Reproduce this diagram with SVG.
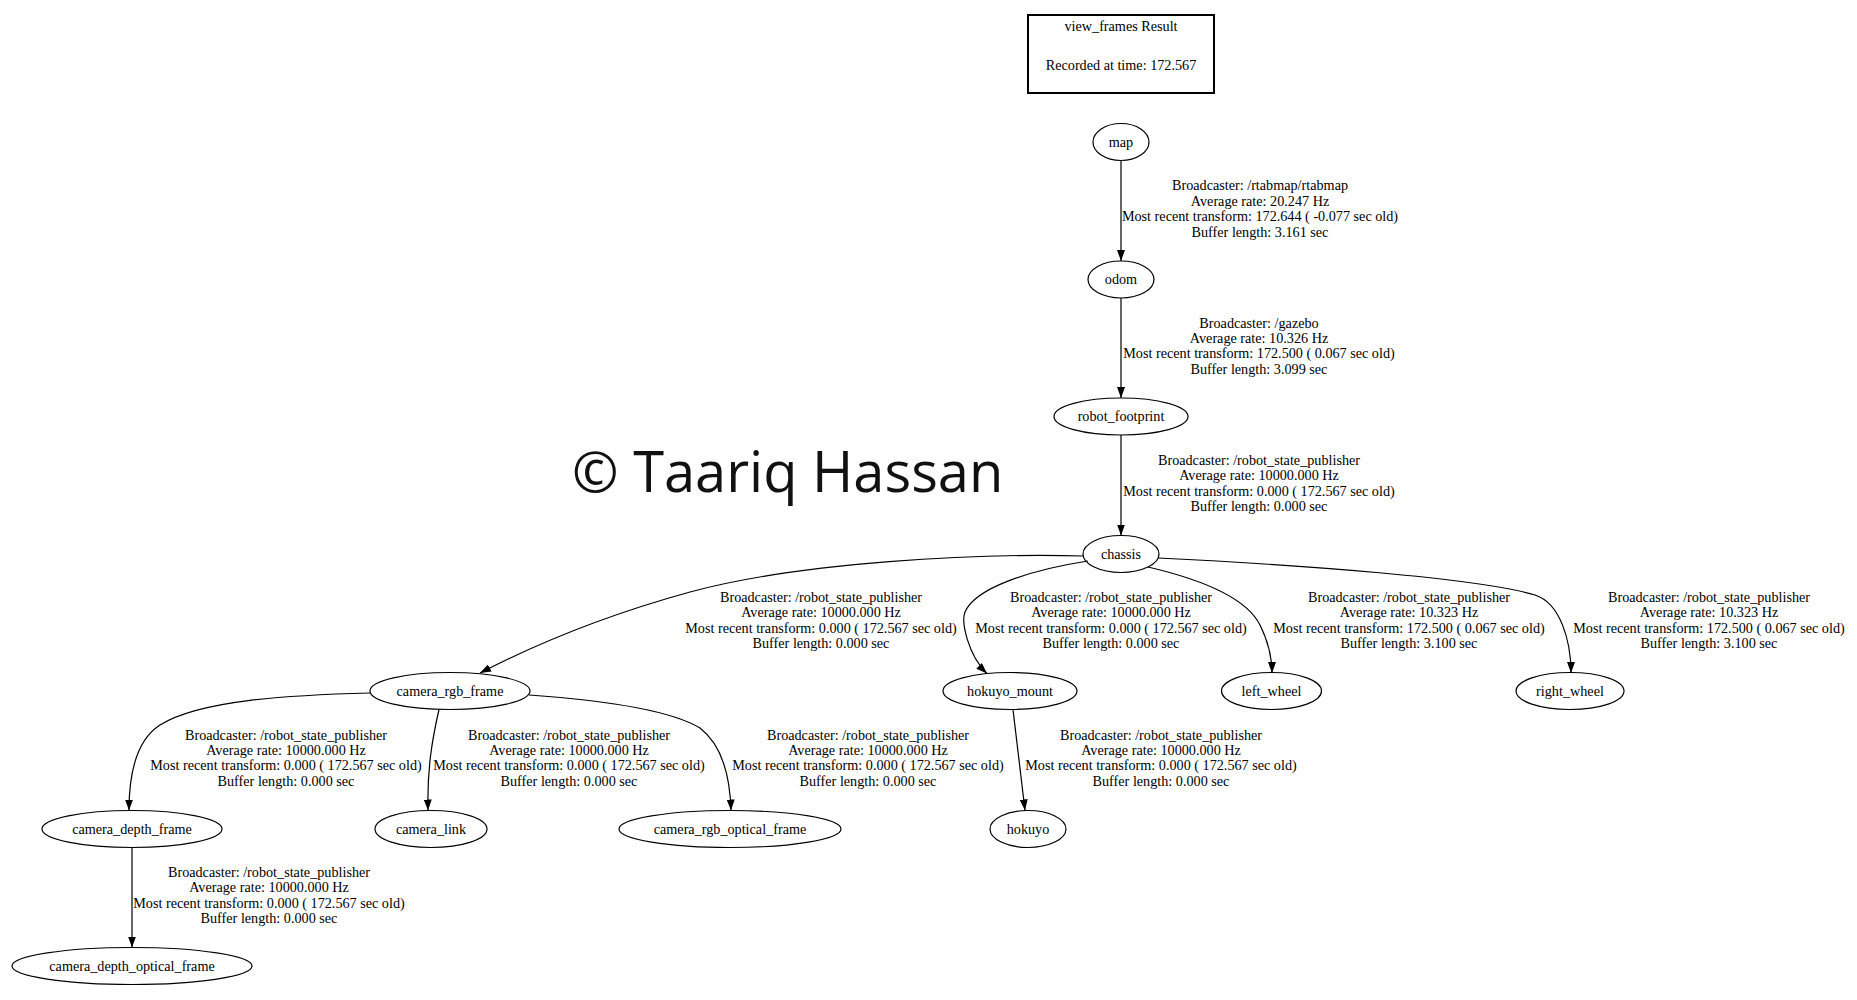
<svg xmlns="http://www.w3.org/2000/svg" width="1857" height="1000" viewBox="0 0 1857 1000">
<style>
.bg{fill:#fff}
.node ellipse{fill:none;stroke:#000;stroke-width:1.2}
.t{font-family:"Liberation Serif","Times New Roman",serif;font-size:14.2px;text-anchor:middle;fill:#000}
.edge path{fill:none;stroke:#000;stroke-width:1.2;marker-end:url(#arr)}
.wm{font-family:"Open Sans","Noto Sans",sans-serif;font-size:56px;fill:#111}
</style>
<defs>
<marker id="arr" markerUnits="userSpaceOnUse" viewBox="0 0 11 8" refX="11" refY="4" markerWidth="11" markerHeight="8" orient="auto">
<path d="M0,0 L11,4 L0,8 z" fill="#000"/>
</marker>
</defs>
<rect class="bg" x="0" y="0" width="1857" height="1000"/>

<g id="title">
<rect x="1028" y="15" width="186" height="78" fill="none" stroke="#000" stroke-width="2"/>
<text class="t" x="1121" y="31">view_frames Result</text>
<text class="t" x="1121" y="70">Recorded at time: 172.567</text>
</g>

<g id="connectors">
<g id="e-map-odom" class="edge">
<path d="M1121,160.5 L1121,261"/>
<text class="t" x="1260" y="190.3">Broadcaster: /rtabmap/rtabmap<tspan x="1260" dy="15.4">Average rate: 20.247 Hz</tspan><tspan x="1260" dy="15.4">Most recent transform: 172.644 ( -0.077 sec old)</tspan><tspan x="1260" dy="15.4">Buffer length: 3.161 sec</tspan></text>
</g>
<g id="e-odom-fp" class="edge">
<path d="M1121,298 L1121,398"/>
<text class="t" x="1259" y="327.5">Broadcaster: /gazebo<tspan x="1259" dy="15.4">Average rate: 10.326 Hz</tspan><tspan x="1259" dy="15.4">Most recent transform: 172.500 ( 0.067 sec old)</tspan><tspan x="1259" dy="15.4">Buffer length: 3.099 sec</tspan></text>
</g>
<g id="e-fp-chassis" class="edge">
<path d="M1121,435 L1121,535.5"/>
<text class="t" x="1259" y="464.8">Broadcaster: /robot_state_publisher<tspan x="1259" dy="15.4">Average rate: 10000.000 Hz</tspan><tspan x="1259" dy="15.4">Most recent transform: 0.000 ( 172.567 sec old)</tspan><tspan x="1259" dy="15.4">Buffer length: 0.000 sec</tspan></text>
</g>
<g id="e-chassis-rgb" class="edge">
<path d="M1084,556 C980,553 800,562 690,592 C610,614 540,642 480,673"/>
<text class="t" x="821" y="602">Broadcaster: /robot_state_publisher<tspan x="821" dy="15.4">Average rate: 10000.000 Hz</tspan><tspan x="821" dy="15.4">Most recent transform: 0.000 ( 172.567 sec old)</tspan><tspan x="821" dy="15.4">Buffer length: 0.000 sec</tspan></text>
</g>
<g id="e-chassis-hokuyo_mount" class="edge">
<path d="M1088,561 C1030,570 975,588 965,612 C961,622 968,655 987,673.5"/>
<text class="t" x="1111" y="602">Broadcaster: /robot_state_publisher<tspan x="1111" dy="15.4">Average rate: 10000.000 Hz</tspan><tspan x="1111" dy="15.4">Most recent transform: 0.000 ( 172.567 sec old)</tspan><tspan x="1111" dy="15.4">Buffer length: 0.000 sec</tspan></text>
</g>
<g id="e-chassis-left_wheel" class="edge">
<path d="M1148,567 C1195,578 1245,595 1260,625 C1270,645 1272,660 1272,673"/>
<text class="t" x="1409" y="602">Broadcaster: /robot_state_publisher<tspan x="1409" dy="15.4">Average rate: 10.323 Hz</tspan><tspan x="1409" dy="15.4">Most recent transform: 172.500 ( 0.067 sec old)</tspan><tspan x="1409" dy="15.4">Buffer length: 3.100 sec</tspan></text>
</g>
<g id="e-chassis-right_wheel" class="edge">
<path d="M1158,558 C1300,565 1480,578 1535,595 C1560,603 1571,640 1571,673"/>
<text class="t" x="1709" y="602">Broadcaster: /robot_state_publisher<tspan x="1709" dy="15.4">Average rate: 10.323 Hz</tspan><tspan x="1709" dy="15.4">Most recent transform: 172.500 ( 0.067 sec old)</tspan><tspan x="1709" dy="15.4">Buffer length: 3.100 sec</tspan></text>
</g>
<g id="e-rgb-depth" class="edge">
<path d="M370,693 C290,695 200,700 160,725 C135,741 129,775 129,810.5"/>
<text class="t" x="286" y="739.5">Broadcaster: /robot_state_publisher<tspan x="286" dy="15.4">Average rate: 10000.000 Hz</tspan><tspan x="286" dy="15.4">Most recent transform: 0.000 ( 172.567 sec old)</tspan><tspan x="286" dy="15.4">Buffer length: 0.000 sec</tspan></text>
</g>
<g id="e-rgb-link" class="edge">
<path d="M439,709.5 C432,740 427,770 428,810.5"/>
<text class="t" x="569" y="739.5">Broadcaster: /robot_state_publisher<tspan x="569" dy="15.4">Average rate: 10000.000 Hz</tspan><tspan x="569" dy="15.4">Most recent transform: 0.000 ( 172.567 sec old)</tspan><tspan x="569" dy="15.4">Buffer length: 0.000 sec</tspan></text>
</g>
<g id="e-rgb-optical" class="edge">
<path d="M529,695 C600,700 670,710 700,728 C722,745 730,775 731,810.5"/>
<text class="t" x="868" y="739.5">Broadcaster: /robot_state_publisher<tspan x="868" dy="15.4">Average rate: 10000.000 Hz</tspan><tspan x="868" dy="15.4">Most recent transform: 0.000 ( 172.567 sec old)</tspan><tspan x="868" dy="15.4">Buffer length: 0.000 sec</tspan></text>
</g>
<g id="e-hokuyo_mount-hokuyo" class="edge">
<path d="M1013,709.5 L1025,810.5"/>
<text class="t" x="1161" y="739.5">Broadcaster: /robot_state_publisher<tspan x="1161" dy="15.4">Average rate: 10000.000 Hz</tspan><tspan x="1161" dy="15.4">Most recent transform: 0.000 ( 172.567 sec old)</tspan><tspan x="1161" dy="15.4">Buffer length: 0.000 sec</tspan></text>
</g>
<g id="e-depth-depthoptical" class="edge">
<path d="M132,847.5 L132,947.5"/>
<text class="t" x="269" y="877">Broadcaster: /robot_state_publisher<tspan x="269" dy="15.4">Average rate: 10000.000 Hz</tspan><tspan x="269" dy="15.4">Most recent transform: 0.000 ( 172.567 sec old)</tspan><tspan x="269" dy="15.4">Buffer length: 0.000 sec</tspan></text>
</g>
</g>

<g id="map" class="node"><ellipse cx="1121" cy="142" rx="28" ry="18.5"/><text class="t" x="1121" y="146.5">map</text></g>
<g id="odom" class="node"><ellipse cx="1121" cy="279.5" rx="33" ry="18.5"/><text class="t" x="1121" y="284">odom</text></g>
<g id="robot_footprint" class="node"><ellipse cx="1121" cy="416.5" rx="67" ry="18.5"/><text class="t" x="1121" y="421">robot_footprint</text></g>
<g id="chassis" class="node"><ellipse cx="1121" cy="554" rx="38" ry="18.5"/><text class="t" x="1121" y="558.5">chassis</text></g>
<g id="camera_rgb_frame" class="node"><ellipse cx="450" cy="691" rx="80" ry="18.5"/><text class="t" x="450" y="695.5">camera_rgb_frame</text></g>
<g id="hokuyo_mount" class="node"><ellipse cx="1010" cy="691" rx="67" ry="18.5"/><text class="t" x="1010" y="695.5">hokuyo_mount</text></g>
<g id="left_wheel" class="node"><ellipse cx="1271.5" cy="691" rx="50" ry="18.5"/><text class="t" x="1271.5" y="695.5">left_wheel</text></g>
<g id="right_wheel" class="node"><ellipse cx="1570" cy="691" rx="54" ry="18.5"/><text class="t" x="1570" y="695.5">right_wheel</text></g>
<g id="camera_depth_frame" class="node"><ellipse cx="132" cy="829" rx="90" ry="18.5"/><text class="t" x="132" y="833.5">camera_depth_frame</text></g>
<g id="camera_link" class="node"><ellipse cx="431" cy="829" rx="56" ry="18.5"/><text class="t" x="431" y="833.5">camera_link</text></g>
<g id="camera_rgb_optical_frame" class="node"><ellipse cx="730" cy="829" rx="111" ry="18.5"/><text class="t" x="730" y="833.5">camera_rgb_optical_frame</text></g>
<g id="hokuyo" class="node"><ellipse cx="1028" cy="829" rx="38" ry="18.5"/><text class="t" x="1028" y="833.5">hokuyo</text></g>
<g id="camera_depth_optical_frame" class="node"><ellipse cx="132" cy="966" rx="120" ry="18.5"/><text class="t" x="132" y="970.5">camera_depth_optical_frame</text></g>

<text class="wm" x="572" y="492">© Taariq Hassan</text>
</svg>
